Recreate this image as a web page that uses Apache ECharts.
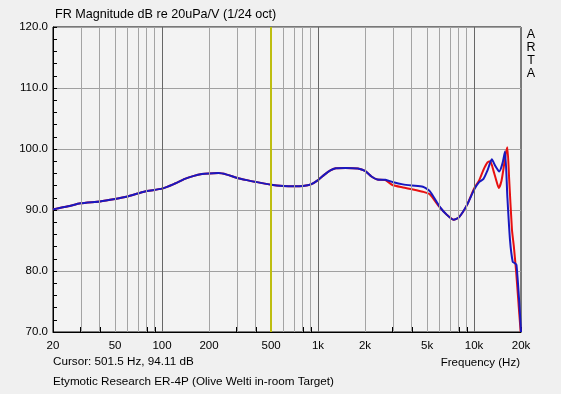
<!DOCTYPE html>
<html>
<head>
<meta charset="utf-8">
<script src="https://cdn.jsdelivr.net/npm/echarts@6/dist/echarts.min.js"></script>
<style>
html,body{margin:0;padding:0;background:#F0F0F0;}
#c{width:561px;height:394px;}
</style>
</head>
<body>
<div id="c"></div>
<script>
// ---- data ----
const freqBlue = [20,25,30,40,50,60,70,80,100,120,140,160,180,200,230,260,300,350,400,500,600,700,800,900,1000,1100,1200,1300,1500,1800,2000,2200,2400,2700,3000,3500,4000,4700,5200,6000,6700,7400,8000,9000,10000,10800,11500,12200,13000,13700,14500,15200,15800,16350,17000,17700,18200,18700,19500,20000];
const dbBlue   = [90.1,90.6,91.1,91.4,91.8,92.2,92.7,93.1,93.5,94.3,95.1,95.6,95.9,96.0,96.05,95.8,95.3,94.9,94.6,94.15,93.95,93.9,93.95,94.2,94.9,95.8,96.5,96.85,96.9,96.8,96.4,95.5,95.0,94.95,94.6,94.2,94.0,93.8,93.1,90.6,89.2,88.4,88.8,90.8,93.3,94.6,95.1,96.5,98.3,97.2,96.3,97.6,99.6,92.2,85.1,81.5,81.3,81.0,74.8,70.0];
const freqRed  = [20,25,30,40,50,60,70,80,100,120,140,160,180,200,230,260,300,350,400,500,600,700,800,900,1000,1100,1200,1300,1500,1800,2000,2200,2400,2700,3000,3500,4000,4700,5200,6000,6700,7400,8000,9000,10000,10800,11500,12200,12700,13300,13900,14400,15000,15600,16000,16350,16800,17500,18000,18600,19300,19900];
const dbRed    = [90.1,90.6,91.1,91.4,91.8,92.2,92.7,93.1,93.5,94.3,95.1,95.6,95.9,96.0,96.05,95.8,95.3,94.9,94.6,94.15,93.95,93.9,93.95,94.2,94.9,95.8,96.5,96.85,96.9,96.8,96.4,95.5,95.0,94.9,94.1,93.7,93.4,93.0,92.6,90.5,89.2,88.4,88.8,90.8,93.5,94.9,96.6,97.8,98.0,96.5,94.8,93.6,94.8,97.5,99.3,100.3,95.0,86.8,84.0,80.0,74.5,70.0];
const gridFreqs = [30,40,50,60,70,80,90,100,200,300,400,500,600,700,800,900,1000,2000,3000,4000,5000,6000,7000,8000,9000,10000];
const decadeFreqs = [100,1000,10000];
const tickFreqs = [20,30,40,50,60,70,80,90,100,200,300,400,500,600,700,800,900,1000,2000,3000,4000,5000,6000,7000,8000,9000,10000,20000];
const labelFreqs = [20,50,100,200,500,1000,2000,5000,10000,20000];
const cursorFreq = 501.5;
const yMin = 70, yMax = 120, yStep = 10;
const titleText = 'FR Magnitude dB re 20uPa/V (1/24 oct)';
const cursorText = 'Cursor: 501.5 Hz, 94.11 dB';
const legendText = 'Etymotic Research ER-4P (Olive Welti in-room Target)';
const xName = 'Frequency (Hz)';
const brandLetters = ['A', 'R', 'T', 'A'];

const lg = f => Math.log10(f);
const pts = (fs, ds) => fs.map((f, i) => [lg(f), ds[i]]);
function fmtF(v) {
  const f = Math.round(Math.pow(10, v));
  return f >= 1000 ? (f / 1000) + 'k' : String(f);
}

const chart = echarts.init(document.getElementById('c'), null, {renderer: 'canvas'});
const FONT = 'Liberation Sans, Arial, sans-serif';

const gridLines = gridFreqs.map(f => ({
  xAxis: lg(f),
  lineStyle: {color: decadeFreqs.indexOf(f) >= 0 ? '#666666' : '#A4A4A4', width: 1, type: 'solid'}
}));

const letterGraphics = brandLetters.map((ch, i) => ({
  type: 'text', x: 531, y: 35 + i * 13,
  style: {text: ch, fill: '#000', font: '12.5px ' + FONT, align: 'center', verticalAlign: 'middle'}
}));

chart.setOption({
  animation: false,
  backgroundColor: '#F0F0F0',
  textStyle: {fontFamily: FONT},
  grid: {left: 53, right: 40, top: 27, bottom: 62, show: true, borderColor: '#000', borderWidth: 1, backgroundColor: '#F3F3F3', outerBoundsMode: 'none'},
  xAxis: {
    type: 'value', min: lg(20), max: lg(20000),
    axisLine: {show: true, lineStyle: {color: '#000', width: 1}},
    axisTick: {show: true, inside: true, length: 5, lineStyle: {color: '#000'}, customValues: tickFreqs.map(lg)},
    axisLabel: {show: true, customValues: labelFreqs.map(lg), formatter: fmtF, color: '#000', fontSize: 11.5, margin: 8, fontFamily: FONT},
    splitLine: {show: false}
  },
  yAxis: {
    type: 'value', min: yMin, max: yMax, interval: yStep,
    axisLine: {show: true, lineStyle: {color: '#000', width: 1}},
    axisTick: {show: true, inside: true, length: 4, lineStyle: {color: '#000'}},
    minorTick: {show: true, splitNumber: 5, length: 4, lineStyle: {color: '#000'}},
    axisLabel: {formatter: v => v.toFixed(1), color: '#000', fontSize: 11.5, margin: 5, fontFamily: FONT},
    splitLine: {show: true, lineStyle: {color: '#A0A0A0', width: 1}}
  },
  graphic: [
    {type: 'text', x: 55, y: 15, style: {text: titleText, fill: '#000', font: '12.6px ' + FONT, verticalAlign: 'middle'}},
    {type: 'text', x: 53, y: 362, style: {text: cursorText, fill: '#000', font: '11.7px ' + FONT, verticalAlign: 'middle'}},
    {type: 'text', x: 53, y: 382, style: {text: legendText, fill: '#000', font: '11.7px ' + FONT, verticalAlign: 'middle'}},
    {type: 'text', x: 520, y: 363, style: {text: xName, fill: '#000', font: '11.5px ' + FONT, align: 'right', verticalAlign: 'middle'}}
  ].concat(letterGraphics),
  series: [
    {
      type: 'line', data: [], z: 1, silent: true,
      markLine: {silent: true, symbol: ['none', 'none'], label: {show: false}, animation: false, data: gridLines}
    },
    {
      type: 'line', data: [], z: 1, silent: true,
      markLine: {silent: true, symbol: ['none', 'none'], label: {show: false}, animation: false,
        data: [{xAxis: lg(cursorFreq), lineStyle: {color: '#BEBE10', width: 2, type: 'solid'}}]}
    },
    {
      name: 'red', type: 'line', data: pts(freqRed, dbRed), showSymbol: false, smooth: 0.2, z: 3,
      lineStyle: {color: '#E81010', width: 2}
    },
    {
      name: 'blue', type: 'line', data: pts(freqBlue, dbBlue), showSymbol: false, smooth: 0.2, z: 4,
      lineStyle: {color: '#1818C0', width: 2}
    }
  ]
});
</script>
</body>
</html>
